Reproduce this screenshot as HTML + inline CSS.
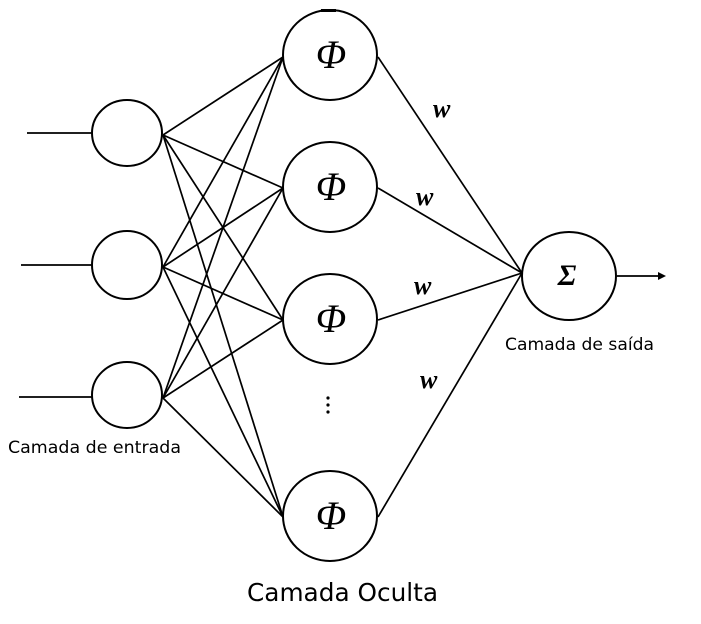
<!DOCTYPE html>
<html><head><meta charset="utf-8"><style>
html,body{margin:0;padding:0;background:#fff;}
svg{display:block;}
.w{font-family:"Liberation Serif",serif;font-weight:bold;font-style:italic;font-size:26px;}
.p{font-family:"Liberation Serif",serif;font-style:italic;font-size:40px;}
.t{font-family:"DejaVu Sans",sans-serif;}
</style></head><body>
<svg width="701" height="624" viewBox="0 0 701 624" xmlns="http://www.w3.org/2000/svg">
<g stroke="#000" stroke-width="1.7" fill="none">
<line x1="27" y1="133" x2="92" y2="133"/>
<line x1="21" y1="265" x2="92" y2="265"/>
<line x1="19" y1="397" x2="92" y2="397"/>
<g>
<line x1="163" y1="135" x2="283" y2="57"/><line x1="163" y1="135" x2="283" y2="188"/><line x1="163" y1="135" x2="283" y2="320"/><line x1="163" y1="135" x2="283" y2="517"/>
<line x1="163" y1="267" x2="283" y2="57"/><line x1="163" y1="267" x2="283" y2="188"/><line x1="163" y1="267" x2="283" y2="320"/><line x1="163" y1="267" x2="283" y2="517"/>
<line x1="163" y1="398" x2="283" y2="57"/><line x1="163" y1="398" x2="283" y2="188"/><line x1="163" y1="398" x2="283" y2="320"/><line x1="163" y1="398" x2="283" y2="517"/>
</g>
<line x1="378" y1="57" x2="522" y2="273"/><line x1="378" y1="188" x2="522" y2="273"/><line x1="378" y1="320" x2="522" y2="273"/><line x1="378" y1="517" x2="522" y2="273"/>
<line x1="617" y1="276" x2="660" y2="276"/>
</g>
<polygon points="666,276 658,272 658,280" fill="#000"/>
<g stroke="#000" stroke-width="2" fill="#fff">
<ellipse cx="127" cy="133" rx="35" ry="33"/>
<ellipse cx="127" cy="265" rx="35" ry="34"/>
<ellipse cx="127" cy="395" rx="35" ry="33"/>
<ellipse cx="330" cy="55" rx="47" ry="45"/>
<ellipse cx="330" cy="187" rx="47" ry="45"/>
<ellipse cx="330" cy="319" rx="47" ry="45"/>
<ellipse cx="330" cy="516" rx="47" ry="45"/>
<ellipse cx="569" cy="276" rx="47" ry="44"/>
</g>
<rect x="321" y="9" width="15" height="3" fill="#000"/>
<g class="p" text-anchor="middle">
<text x="331" y="68">Φ</text><text x="331" y="200">Φ</text><text x="331" y="332">Φ</text><text x="331" y="529">Φ</text>
</g>
<text x="567" y="285" text-anchor="middle" style="font-family:'Liberation Serif',serif;font-weight:bold;font-style:italic;font-size:30px">Σ</text>
<text class="w" x="433" y="117">w</text>
<text class="w" x="416" y="205">w</text>
<text class="w" x="414" y="294">w</text>
<text class="w" x="420" y="388">w</text>
<g fill="#000"><circle cx="328" cy="398" r="1.6"/><circle cx="328" cy="405" r="1.6"/><circle cx="328" cy="412" r="1.6"/></g>
<text class="t" x="8" y="453" font-size="17" textLength="173" lengthAdjust="spacingAndGlyphs">Camada de entrada</text>
<text class="t" x="505" y="350" font-size="17" textLength="149" lengthAdjust="spacingAndGlyphs">Camada de saída</text>
<text class="t" x="247" y="601" font-size="25" textLength="191" lengthAdjust="spacingAndGlyphs">Camada Oculta</text>
</svg>
</body></html>
